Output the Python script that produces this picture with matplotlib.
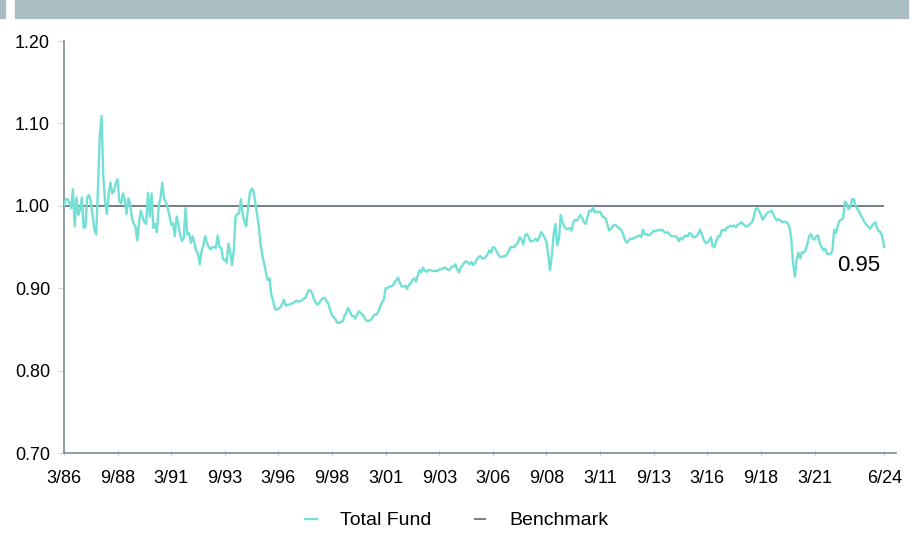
import matplotlib.pyplot as plt
from matplotlib.patches import Rectangle

# monthly ratio, 3/86 .. 6/24
total_fund = [
    1.000, 1.008, 1.008, 1.004, 0.997, 1.020, 0.975, 1.010, 0.989, 0.995, 1.010, 0.973,
    0.975, 1.010, 1.013, 1.005, 0.988, 0.972, 0.965, 1.020, 1.085, 1.109, 1.035, 1.005,
    0.990, 1.015, 1.028, 1.015, 1.018, 1.028, 1.032, 1.005, 1.003, 1.015, 1.008, 0.990,
    1.009, 1.003, 0.985, 0.978, 0.975, 0.958, 0.980, 0.994, 0.987, 0.980, 0.978, 1.016,
    0.987, 1.015, 0.973, 0.978, 0.968, 1.000, 1.010, 1.028, 1.008, 1.005, 0.998, 0.988,
    0.977, 0.979, 0.963, 0.987, 0.978, 0.965, 0.957, 0.961, 0.997, 0.965, 0.967, 0.955,
    0.963, 0.955, 0.945, 0.942, 0.929, 0.945, 0.952, 0.963, 0.955, 0.950, 0.947, 0.950,
    0.950, 0.949, 0.964, 0.950, 0.949, 0.935, 0.935, 0.931, 0.954, 0.944, 0.928, 0.945,
    0.987, 0.990, 0.991, 1.008, 0.990, 0.980, 0.975, 0.998, 1.015, 1.021, 1.018, 1.005,
    0.990, 0.975, 0.953, 0.940, 0.930, 0.919, 0.910, 0.912, 0.892, 0.885, 0.875, 0.874,
    0.875, 0.877, 0.880, 0.886, 0.879, 0.880, 0.880, 0.881, 0.882, 0.883, 0.885, 0.884,
    0.884, 0.885, 0.887, 0.888, 0.893, 0.898, 0.897, 0.893, 0.886, 0.882, 0.880, 0.883,
    0.886, 0.888, 0.888, 0.884, 0.881, 0.873, 0.867, 0.865, 0.862, 0.858, 0.858, 0.859,
    0.860, 0.867, 0.870, 0.876, 0.872, 0.867, 0.866, 0.863, 0.868, 0.872, 0.870, 0.868,
    0.865, 0.861, 0.860, 0.861, 0.862, 0.866, 0.868, 0.868, 0.872, 0.878, 0.883, 0.886,
    0.900, 0.900, 0.902, 0.902, 0.903, 0.907, 0.910, 0.913, 0.906, 0.902, 0.902, 0.903,
    0.899, 0.904, 0.906, 0.910, 0.912, 0.908, 0.916, 0.922, 0.919, 0.925, 0.921, 0.920,
    0.922, 0.922, 0.921, 0.921, 0.921, 0.921, 0.923, 0.923, 0.924, 0.925, 0.924, 0.922,
    0.923, 0.926, 0.926, 0.929, 0.923, 0.919, 0.925, 0.928, 0.931, 0.933, 0.931, 0.929,
    0.932, 0.928, 0.930, 0.935, 0.938, 0.939, 0.936, 0.936, 0.938, 0.941, 0.946, 0.943,
    0.950, 0.949, 0.945, 0.941, 0.938, 0.938, 0.939, 0.939, 0.941, 0.946, 0.950, 0.950,
    0.950, 0.953, 0.955, 0.962, 0.959, 0.953, 0.964, 0.966, 0.962, 0.957, 0.957, 0.958,
    0.960, 0.957, 0.962, 0.968, 0.965, 0.961, 0.956, 0.940, 0.922, 0.940, 0.965, 0.978,
    0.952, 0.960, 0.989, 0.980, 0.975, 0.972, 0.972, 0.973, 0.970, 0.980, 0.983, 0.982,
    0.985, 0.989, 0.985, 0.980, 0.978, 0.987, 0.994, 0.993, 0.998, 0.992, 0.993, 0.992,
    0.993, 0.988, 0.986, 0.985, 0.978, 0.970, 0.972, 0.975, 0.977, 0.976, 0.974, 0.972,
    0.970, 0.965, 0.958, 0.955, 0.958, 0.960, 0.960, 0.961, 0.962, 0.963, 0.964, 0.962,
    0.971, 0.965, 0.966, 0.964, 0.965, 0.967, 0.970, 0.969, 0.970, 0.971, 0.970, 0.971,
    0.968, 0.967, 0.968, 0.965, 0.963, 0.963, 0.963, 0.962, 0.957, 0.961, 0.959, 0.963,
    0.964, 0.963, 0.967, 0.966, 0.962, 0.962, 0.963, 0.966, 0.971, 0.965, 0.959, 0.955,
    0.955, 0.958, 0.962, 0.951, 0.950, 0.957, 0.963, 0.963, 0.970, 0.971, 0.970, 0.974,
    0.974, 0.976, 0.975, 0.976, 0.974, 0.977, 0.978, 0.980, 0.978, 0.976, 0.975, 0.976,
    0.978, 0.980, 0.986, 0.996, 0.997, 0.994, 0.989, 0.983, 0.987, 0.990, 0.992, 0.993,
    0.994, 0.989, 0.985, 0.982, 0.984, 0.982, 0.980, 0.981, 0.980, 0.979, 0.974, 0.960,
    0.930, 0.914, 0.935, 0.943, 0.936, 0.944, 0.943, 0.946, 0.954, 0.963, 0.966, 0.960,
    0.959, 0.963, 0.964, 0.954, 0.950, 0.946, 0.948, 0.942, 0.941, 0.942, 0.945, 0.971,
    0.967, 0.976, 0.982, 0.983, 0.985, 1.005, 1.003, 0.996, 0.998, 1.008, 1.008, 1.000,
    0.996, 0.993, 0.988, 0.985, 0.980, 0.977, 0.975, 0.972, 0.975, 0.978, 0.980, 0.973,
    0.969, 0.968, 0.962, 0.950,
]
benchmark = 1.00
tick_labels = ['3/86', '9/88', '3/91', '9/93', '3/96', '9/98', '3/01', '9/03',
               '3/06', '9/08', '3/11', '9/13', '3/16', '9/18', '3/21', '6/24']
y_ticks = [0.70, 0.80, 0.90, 1.00, 1.10, 1.20]

months = list(range(len(total_fund)))
tick_pos = [i * 30 for i in range(15)] + [months[-1]]

plt.rcParams['font.family'] = ['Liberation Sans', 'DejaVu Sans']

fig = plt.figure(figsize=(9.22, 5.33), dpi=100)
# header band (cut off at the top)
fig.patches.append(Rectangle((15 / 922, 1 - 18 / 533), 893 / 922, 18 / 533,
                             transform=fig.transFigure, color='#aabdc2', zorder=0))
fig.patches.append(Rectangle((0, 1 - 18 / 533), 5 / 922, 18 / 533,
                             transform=fig.transFigure, color='#aabdc2', zorder=0))

ax = fig.add_axes([64 / 922, 1 - 453 / 533, 832 / 922, 412 / 533])
ax.plot(months, total_fund, color='#72e0d5', lw=1.7, label='Total Fund', zorder=3)
ax.hlines(benchmark, months[0], months[-1], color='#6b747b', lw=1.3,
          label='Benchmark', zorder=2)

ax.set_xlim(0, 465.6)
ax.set_ylim(0.70, 1.20)
ax.set_yticks(y_ticks)
ax.set_yticklabels([f'{v:.2f}' for v in y_ticks])
ax.set_xticks(tick_pos)
ax.set_xticklabels(tick_labels)

for s in ['top', 'right']:
    ax.spines[s].set_visible(False)
for s in ['left', 'bottom']:
    ax.spines[s].set_color('#7d8a93')
    ax.spines[s].set_linewidth(1.2)
ax.tick_params(axis='y', length=4, color='#d0d5d8', labelsize=13, pad=6)
ax.tick_params(axis='x', length=4, direction='inout', color='#d0d5d8',
               labelsize=13, pad=10)

ax.text(months[-1] - 2, 0.940, f'{total_fund[-1]:.2f}', ha='right', va='top', fontsize=16)

ax.legend(loc='upper center', bbox_to_anchor=(0.472, -0.1), ncol=2, frameon=False,
          fontsize=14, handlelength=0.6, columnspacing=2.2, handletextpad=1.2)

fig.savefig('out.png', dpi=100)
